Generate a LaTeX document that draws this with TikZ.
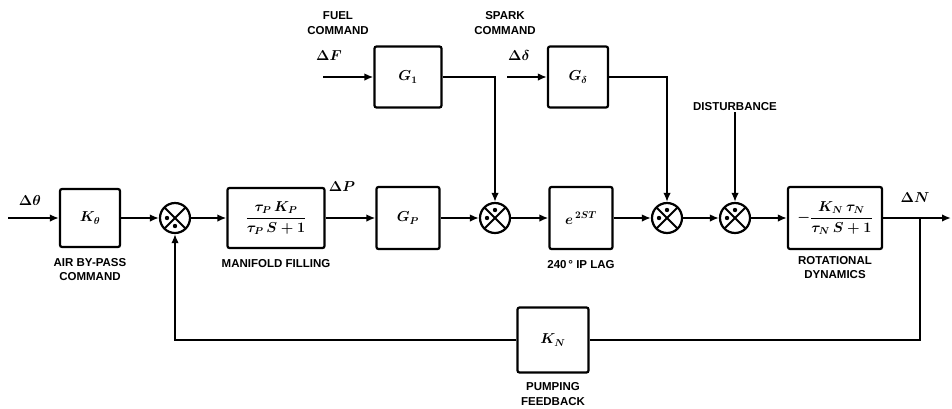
\documentclass[tikz,border=0pt]{standalone}
\usepackage{amsmath}
\usepackage{fontspec}
\setmainfont{Liberation Sans}
\usetikzlibrary{arrows.meta,positioning}

\begin{document}
\begin{tikzpicture}[x=1pt, y=-1pt,
  blk/.style={draw, line width=2.2pt, rounded corners=2pt, inner sep=0pt,
              minimum width=#1, minimum height=62pt, font=\fontsize{14}{16}\selectfont\boldmath},
  blk/.default=63pt,
  sumj/.style={draw, circle, line width=2.2pt, minimum size=30pt, inner sep=0pt,
              path picture={\draw[line width=2pt]
                (path picture bounding box.north west) -- (path picture bounding box.south east)
                (path picture bounding box.north east) -- (path picture bounding box.south west);}},
  lbl/.style={font=\fontsize{11.5}{14.5}\selectfont\bfseries, align=center, inner sep=1pt},
  sig/.style={font=\fontsize{14}{16}\selectfont\boldmath, inner sep=1pt},
  wire/.style={line width=2.2pt},
  arr/.style={wire, -{Latex[length=9pt,width=7.5pt]}},
  sgn/.style={fill, line width=0pt}]
  \useasboundingbox (0,0) rectangle (952,408);
  % main forward path
  \node[blk=60pt, minimum height=58pt] (kth) at (90,218) {$K_\theta$};
  \node[sumj] (sumA) at (175,218) {};
  \node[blk=97pt, minimum height=60pt] (fill) at (276,218) {$\dfrac{\tau_P\,K_P}{\tau_P\,S+1}$};
  \node[blk] (gp) at (408,218) {$G_P$};
  \node[sumj] (sumB) at (495,218) {};
  \node[blk] (lag) at (581,218) {$e^{\,2ST}$};
  \node[sumj] (sumC) at (667,218) {};
  \node[sumj] (sumD) at (735,218) {};
  \node[blk=94pt] (rot) at (835,218) {$-\dfrac{K_N\,\tau_N}{\tau_N\,S+1}$};
  % upper inputs
  \node[blk=67pt, minimum height=61pt] (g1) at (408,77) {$G_1$};
  \node[blk=60pt, minimum height=61pt] (gd) at (578,77) {$G_\delta$};
  % feedback
  \node[blk=71pt, minimum height=65pt] (kn) at (553,340) {$K_N$};
  % labels
  \node[lbl, below=9pt of kth] (kthlbl) {AIR BY-PASS\\COMMAND};
  \node[lbl, below=9pt of fill] (filllbl) {MANIFOLD FILLING};
  \node[lbl, below=9pt of lag] (laglbl) {240\,\textdegree\ IP LAG};
  \node[lbl, below=5pt of rot] (rotlbl) {ROTATIONAL\\DYNAMICS};
  \node[lbl, below=8pt of kn] (knlbl) {PUMPING\\FEEDBACK};
  \node[lbl] (fuel) at (338,23) {FUEL\\COMMAND};
  \node[lbl] (spark) at (505,23) {SPARK\\COMMAND};
  \node[lbl] (dist) at (735,107) {DISTURBANCE};
  % signal names
  \node[sig] (dth) at (30,200) {$\Delta\theta$};
  \node[sig] (dp) at (342,187) {$\Delta P$};
  \node[sig] (df) at (329,56) {$\Delta F$};
  \node[sig] (dd) at (519,55) {$\Delta\delta$};
  \node[sig] (dn) at (915,198) {$\Delta N$};
  \coordinate (in) at (8,218);
  \coordinate (fin) at (323,77);
  \coordinate (din) at (507,77);
  \coordinate (br) at (920,218);
  \coordinate (out) at (951,218);
  % connectors
  \draw[arr] (in) -- (kth);
  \draw[arr] (kth) -- (sumA);
  \draw[arr] (sumA) -- (fill);
  \draw[arr] (fill) -- (gp);
  \draw[arr] (gp) -- (sumB);
  \draw[arr] (sumB) -- (lag);
  \draw[arr] (lag) -- (sumC);
  \draw[arr] (sumC) -- (sumD);
  \draw[arr] (sumD) -- (rot);
  \draw[arr] (rot) -- (out);
  \draw[arr] (fin) -- (g1);
  \draw[arr] (din) -- (gd);
  \draw[arr] (g1) -| (sumB);
  \draw[arr] (gd) -| (sumC);
  \draw[arr] (dist) -- (sumD);
  \draw[wire] (br) |- (kn);
  \draw[arr] (kn) -| (sumA);
  % sign marks in the junctions
  \fill[sgn] (sumA.center) ++(-8,0) circle (2.2pt) (sumA.center) ++(0,8) circle (2.2pt);
  \foreach \j in {sumB,sumC,sumD}
    \fill[sgn] (\j.center) ++(-8,0) circle (2.2pt) (\j.center) ++(0,-8) circle (2.2pt);
\end{tikzpicture}
\end{document}
